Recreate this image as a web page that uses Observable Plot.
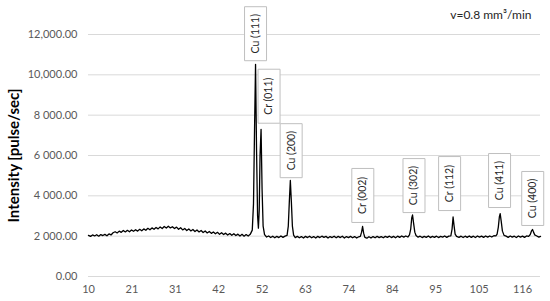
<!DOCTYPE html>
<html>
<head>
<meta charset="utf-8">
<script src="https://cdn.jsdelivr.net/npm/d3@7"></script>
<script src="https://cdn.jsdelivr.net/npm/@observablehq/plot@0.6"></script>
<style>
  html, body { margin: 0; padding: 0; background: #fff; }
  #chart { width: 550px; height: 301px; }
</style>
</head>
<body>
<div id="chart"></div>
<script>
// ---- data ----
const chartTitle = "v=0.8 mm³/min";
const yTitle = "Intensity [pulse/sec]";

const yTicks = [0, 2000, 4000, 6000, 8000, 10000, 12000];
const yTickLabels = ["0.00", "2 000.00", "4 000.00", "6 000.00", "8 000.00", "10,000.00", "12,000.00"];

const xTicks = [10, 20.6, 31.2, 41.8, 52.4, 63, 73.6, 84.2, 94.8, 105.4, 116];
const xTickLabels = ["10", "21", "31", "42", "52", "63", "74", "84", "95", "105", "116"];

const peakNames = ["Cu (111)", "Cr (011)", "Cu (200)", "Cr (002)", "Cu (302)", "Cr (112)", "Cu (411)", "Cu (400)"];
const labelX = [50.8, 54.1, 59.5, 77.0, 89.5, 98.2, 110.4, 118.5];
const labelY = [10700, 7600, 4900, 2680, 3170, 3270, 3420, 2530];

// [2theta, intensity]
const scan = [
  [10,2040],[10.5,1990],[11,2060],[11.5,2010],[12,2070],[12.5,2000],[13,2080],[13.5,2030],[14,2090],[14.5,2020],
  [15,2110],[15.5,2060],[16,2170],[16.5,2220],[17,2160],[17.5,2250],[18,2190],[18.5,2280],[19,2210],[19.5,2290],
  [20,2220],[20.5,2310],[21,2240],[21.5,2320],[22,2250],[22.5,2340],[23,2270],[23.5,2360],[24,2290],[24.5,2390],
  [25,2320],[25.5,2410],[26,2340],[26.5,2430],[27,2360],[27.5,2460],[28,2380],[28.5,2480],[29,2400],[29.5,2490],
  [30,2410],[30.5,2470],[31,2380],[31.5,2450],[32,2340],[32.5,2420],[33,2310],[33.5,2380],[34,2280],[34.5,2360],
  [35,2260],[35.5,2330],[36,2230],[36.5,2310],[37,2210],[37.5,2280],[38,2180],[38.5,2260],[39,2160],[39.5,2230],
  [40,2140],[40.5,2210],[41,2120],[41.5,2190],[42,2090],[42.5,2170],[43,2080],[43.5,2150],[44,2060],[44.5,2130],
  [45,2040],[45.5,2120],[46,2030],[46.5,2100],[47,2010],[47.5,2090],[48,2000],[48.5,2080],[49,2010],[49.5,2090],
  [50,2300],[50.3,3600],[50.55,7200],[50.8,10520],[51.05,6200],[51.3,3000],[51.5,2400],[51.7,3300],[51.9,6000],
  [52.15,7300],[52.4,4300],[52.65,2500],[53,2080],[53.5,1960],[54,2010],[54.5,1930],[55,2000],[55.5,1920],[56,1990],
  [56.5,1930],[57,2010],[57.5,1940],[58,2000],[58.5,2040],[58.8,2500],[59.05,3700],[59.3,4760],[59.55,3700],[59.8,2500],
  [60.1,2050],[60.5,1930],[61,1990],[61.5,1920],[62,1980],[62.5,1910],[63,1990],[63.5,1930],[64,2000],[64.5,1920],
  [65,1980],[65.5,1910],[66,1990],[66.5,1930],[67,2000],[67.5,1940],[68,1990],[68.5,1910],[69,1980],[69.5,1930],
  [70,2000],[70.5,1920],[71,1990],[71.5,1930],[72,2000],[72.5,1910],[73,1980],[73.5,1930],[74,1990],[74.5,1920],
  [75,1980],[75.5,1910],[76,1970],[76.4,1990],[76.7,2200],[76.95,2480],[77.2,2150],[77.5,1940],[78,1900],[78.5,1970],
  [79,1910],[79.5,1980],[80,1920],[80.5,1990],[81,1930],[81.5,1980],[82,1920],[82.5,1990],[83,1940],[83.5,2000],
  [84,1930],[84.5,1990],[85,1920],[85.5,2000],[86,1940],[86.5,2010],[87,1950],[87.5,2010],[88,1960],[88.4,2060],
  [88.7,2350],[88.95,2900],[89.15,3050],[89.4,2650],[89.7,2200],[90,2030],[90.5,1950],[91,2000],[91.5,1930],[92,1990],
  [92.5,1940],[93,2010],[93.5,1930],[94,1990],[94.5,1940],[95,2000],[95.5,1930],[96,1990],[96.5,1950],[97,2010],
  [97.5,1940],[98,2000],[98.5,2020],[98.8,2350],[99.05,2950],[99.3,2500],[99.55,2100],[99.9,1990],[100.5,1940],[101,2000],
  [101.5,1930],[102,2000],[102.5,1940],[103,2010],[103.5,1940],[104,2000],[104.5,1930],[105,2010],[105.5,1950],[106,2000],
  [106.5,1940],[107,2010],[107.5,1950],[108,2010],[108.5,1960],[109,2020],[109.5,2010],[109.8,2100],[110.1,2450],[110.35,2950],
  [110.55,3120],[110.8,2750],[111.1,2250],[111.5,2040],[112,2000],[112.5,1940],[113,2010],[113.5,1950],[114,2000],[114.5,1930],
  [115,2010],[115.5,1950],[116,2000],[116.5,1940],[117,2010],[117.5,1990],[117.9,2080],[118.2,2260],[118.45,2330],[118.7,2200],
  [119,2060],[119.5,2010],[120,1950],[120.4,1990]
];

// ---- build ----
const yLabelMap = new Map(yTicks.map((v, i) => [v, yTickLabels[i]]));
const xLabelMap = new Map(xTicks.map((v, i) => [v, xTickLabels[i]]));
const labels = peakNames.map((name, i) => ({name, x: labelX[i], y: labelY[i]}));

const BOX_W = 22, BOX_H = 54;
const boxSymbol = {
  draw(context) {
    context.moveTo(-BOX_W / 2, -BOX_H);
    context.lineTo(BOX_W / 2, -BOX_H);
    context.lineTo(BOX_W / 2, 0);
    context.lineTo(-BOX_W / 2, 0);
    context.closePath();
  }
};

const chart = Plot.plot({
  width: 550,
  height: 301,
  marginLeft: 88,
  marginRight: 10,
  marginTop: 34,
  marginBottom: 25,
  style: {fontFamily: "Lato, 'Open Sans', sans-serif", background: "white", overflow: "visible"},
  x: {domain: [10, 120.4], axis: null},
  y: {domain: [0, 12000], axis: null},
  marks: [
    Plot.gridY(yTicks, {stroke: "#d9d9d9", strokeOpacity: 1, strokeWidth: 1}),
    Plot.axisY(yTicks, {
      tickSize: 0, tickPadding: 11, label: null,
      tickFormat: d => yLabelMap.get(d),
      fontSize: 11, fill: "#595959"
    }),
    Plot.axisX(xTicks, {
      tickSize: 0, tickPadding: 9, label: null,
      tickFormat: d => xLabelMap.get(d),
      fontSize: 11, fill: "#595959"
    }),
    Plot.line(scan, {x: d => d[0], y: d => d[1], stroke: "#000", strokeWidth: 1.3, curve: "linear"}),
    Plot.dot(labels, {x: "x", y: "y", symbol: boxSymbol, r: 3, fill: "white", stroke: "#bfbfbf", strokeWidth: 1}),
    Plot.text(labels, {x: "x", y: "y", text: "name", rotate: -90, dy: -27, fontSize: 10.5, fill: "#262626",
      textAnchor: "middle", lineAnchor: "middle"}),
    Plot.text([chartTitle], {frameAnchor: "top-right", dx: -9, dy: -19, textAnchor: "end", lineAnchor: "middle",
      fontSize: 12, fill: "#262626"}),
    Plot.text([yTitle], {frameAnchor: "left", dx: -74, rotate: -90, textAnchor: "middle", lineAnchor: "middle",
      fontSize: 15, fontWeight: "bold", fill: "#000"})
  ]
});
document.getElementById("chart").appendChild(chart);
</script>
</body>
</html>
